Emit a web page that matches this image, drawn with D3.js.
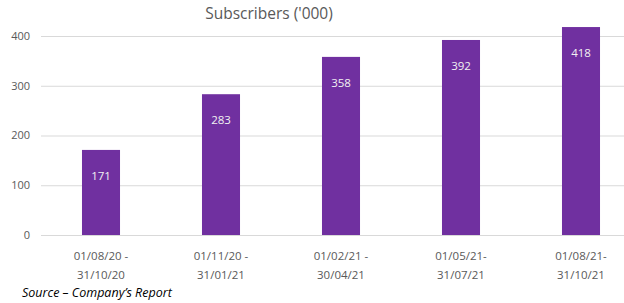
<!DOCTYPE html>
<html><head><meta charset="utf-8">
<script src="https://cdn.jsdelivr.net/npm/d3@7"></script>
<style>body{margin:0;background:#fff;} svg{display:block;}</style>
</head><body>
<script>
const categories = [["01/08/20 -","31/10/20"],["01/11/20 -","31/01/21"],["01/02/21 -","30/04/21"],["01/05/21-","31/07/21"],["01/08/21-","31/10/21"]];
const values = [171, 283, 358, 392, 418];
const yTicks = [0, 100, 200, 300, 400];
const title = "Subscribers ('000)";
const source = "Source \u2013 Company\u2019s Report";

const W = 624, H = 303;
const svg = d3.select("body").append("svg").attr("width", W).attr("height", H);
const font = "'Open Sans', sans-serif";

const x = d3.scaleBand().domain(d3.range(values.length)).range([41, 641]).paddingInner(0.683).paddingOuter(0.3415);
const y = d3.scaleLinear().domain([0, 400]).range([235, 36]);

// gridlines
svg.append("g").selectAll("line").data(yTicks).join("line")
  .attr("x1", 41).attr("x2", W).attr("y1", d => y(d) + 0.5).attr("y2", d => y(d) + 0.5)
  .attr("stroke", "#d9d9d9").attr("stroke-width", 1);

// y tick labels
svg.append("g").selectAll("text").data(yTicks).join("text")
  .attr("x", 30).attr("y", d => y(d)).attr("dy", "0.35em").attr("text-anchor", "end")
  .attr("font-family", font).attr("font-size", 11).attr("fill", "#595959").text(d => d);

// bars
svg.append("g").selectAll("rect").data(values).join("rect")
  .attr("x", (d, i) => x(i)).attr("width", x.bandwidth())
  .attr("y", d => y(d)).attr("height", d => y(0) - y(d))
  .attr("fill", "#7030a0");

// value labels
svg.append("g").selectAll("text").data(values).join("text")
  .attr("x", (d, i) => x(i) + x.bandwidth() / 2).attr("y", d => y(d) + 26).attr("dy", "0.35em")
  .attr("text-anchor", "middle").attr("font-family", font).attr("font-size", 11.5)
  .attr("fill", "#f2f2f2").text(d => d);

// x labels
const xl = svg.append("g").selectAll("text").data(categories).join("text")
  .attr("text-anchor", "middle").attr("font-family", font).attr("font-size", 11.5).attr("fill", "#595959");
xl.selectAll("tspan").data((d, i) => d.map(s => ({s, i}))).join("tspan")
  .attr("x", d => x(d.i) + x.bandwidth() / 2).attr("y", (d, j) => 260 + j * 19)
  .text(d => d.s);

// title
svg.append("text").attr("x", 269).attr("y", 19).attr("text-anchor", "middle")
  .attr("font-family", font).attr("font-size", 15.5).attr("fill", "#595959").text(title);

// source
svg.append("text").attr("x", 22).attr("y", 297)
  .attr("font-family", font).attr("font-size", 12.5).attr("font-style", "italic").attr("fill", "#000").text(source);
</script>
</body></html>
